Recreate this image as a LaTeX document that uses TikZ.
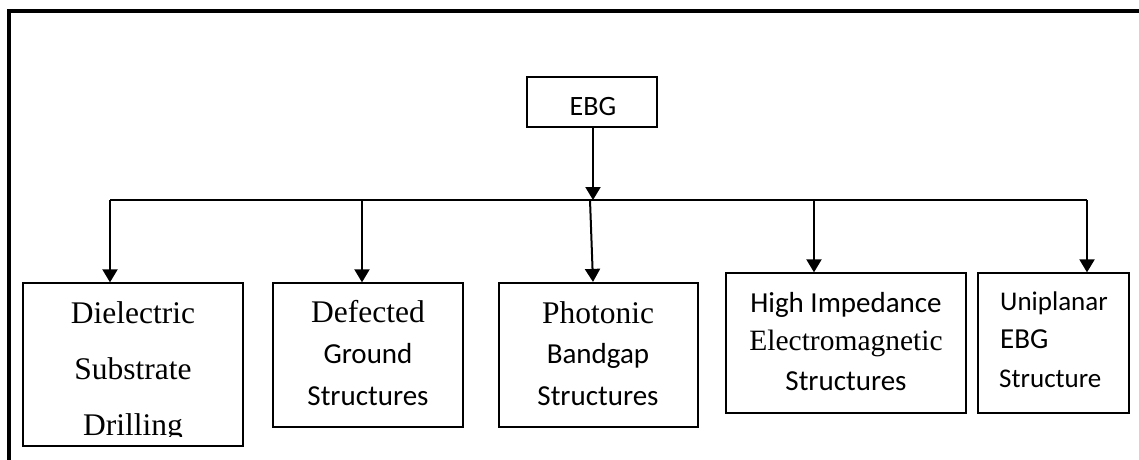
\documentclass[tikz,border=0pt]{standalone}
\usepackage{fontspec}
\setmainfont{Liberation Serif}
\newfontfamily\calfont{Carlito}
\usetikzlibrary{arrows.meta}

\tikzset{
  box/.style={draw, line width=1.3pt, inner sep=0pt},
  serifline/.style={anchor=base, inner sep=0pt, font=\fontsize{31.5}{37}\selectfont},
  sansline/.style={anchor=base, inner sep=0pt, font=\calfont\fontsize{29}{35}\selectfont},
  arr/.style={line width=2pt, -{Triangle[width=15pt,length=13pt]}},
  bus/.style={line width=1.6pt},
}

\begin{document}
\begin{tikzpicture}[x=1pt, y=-1pt]
\useasboundingbox (0,0) rectangle (1139,459);
\clip (0,0) rectangle (1139,459);

% outer frame, running past the right and bottom edges
\draw[line width=4pt] (9.3,11.3) rectangle (1160,480);

% root
\node[box, minimum width=130, minimum height=50] (ebg) at (592,102) {};
\node[sansline, font=\calfont\fontsize{28}{34}\selectfont] (ebgt) at (593,115) {EBG};

% child boxes
\node[box, minimum width=220, minimum height=163] (b1) at (133,364.5) {};
\node[box, minimum width=190, minimum height=144] (b2) at (368,355) {};
\node[box, line width=2.2pt, minimum width=199, minimum height=144] (b3) at (598.5,355) {};
\node[box, minimum width=240, minimum height=140] (b4) at (846,343) {};
\node[box, minimum width=151, minimum height=140] (b5) at (1053.5,343) {};

% box 1 text (last line cut off by the box's lower part)
\node[serifline] (b1a) at (133,323) {Dielectric};
\node[serifline] (b1b) at (133,379) {Substrate};
\begin{scope}
  \clip (25,285) rectangle (241,436);
  \node[serifline] (b1c) at (133,435) {Drilling};
\end{scope}

% box 2 text
\node[serifline] (b2a) at (368,322) {Defected};
\node[sansline] (b2b) at (368,363) {Ground};
\node[sansline] (b2c) at (368,405) {Structures};

% box 3 text
\node[serifline] (b3a) at (598,323) {Photonic};
\node[sansline] (b3b) at (598,363) {Bandgap};
\node[sansline] (b3c) at (598,405) {Structures};

% box 4 text
\node[sansline] (b4a) at (846,312) {High Impedance};
\node[serifline, font=\fontsize{29.5}{35}\selectfont] (b4b) at (846,350) {Electromagnetic};
\node[sansline] (b4c) at (846,390) {Structures};

% box 5 text, left aligned
\node[sansline, anchor=base west, font=\calfont\fontsize{27}{33}\selectfont] (b5a) at (1000,310) {Uniplanar};
\node[sansline, anchor=base west] (b5b) at (1000,348) {EBG};
\node[sansline, anchor=base west, font=\calfont\fontsize{27}{33}\selectfont] (b5c) at (999,387) {Structure};

% connectors
\coordinate (busL) at (110,200);
\coordinate (busM) at (590,200);
\coordinate (busR) at (1087,200);
\coordinate (d2) at (362,200);
\coordinate (d4) at (814,200);

\draw[arr] (ebg.south -| ebgt) -- (busM -| ebgt);
\draw[bus] (busL) -- (busR);
\draw[arr] (busL) -- (busL |- b1.north);
\draw[arr] (d2) -- (d2 |- b2.north);
\draw[arr] (busM) -- (b3.north -| ebgt);
\draw[arr] (d4) -- (d4 |- b4.north);
\draw[arr] (busR) -- (busR |- b5.north);
\end{tikzpicture}
\end{document}
